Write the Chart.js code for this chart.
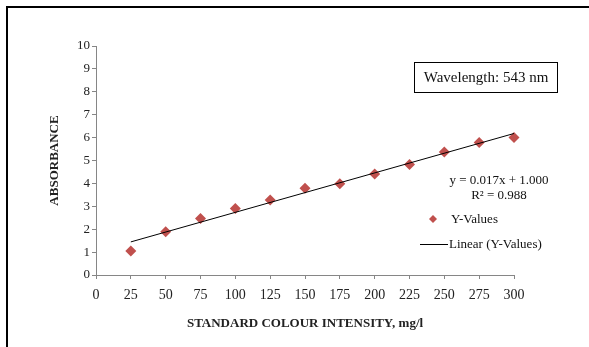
<!DOCTYPE html>
<html>
<head>
<meta charset="utf-8">
<script src="https://cdn.jsdelivr.net/npm/chart.js@4.4.1/dist/chart.umd.min.js"></script>
<style>
  html, body { margin: 0; padding: 0; background: #fff; }
  .wrap { position: relative; width: 589px; height: 347px; overflow: hidden; }
  .frame { position: absolute; left: 6px; top: 6px; width: 600px; height: 400px;
           border-left: 2px solid #000; border-top: 2px solid #000; }
  canvas { position: absolute; left: 0; top: 0; }
</style>
</head>
<body>
<div class="wrap">
  <div class="frame"></div>
  <canvas id="chart" width="589" height="347"></canvas>
</div>
<script>
// concentrations (mg/l) and measured absorbance
const intensity = [25, 50, 75, 100, 125, 150, 175, 200, 225, 250, 275, 300];
const absorbance = [1.05, 1.89, 2.47, 2.9, 3.27, 3.79, 3.99, 4.41, 4.82, 5.37, 5.79, 6.0];
const xTicks = [0, 25, 50, 75, 100, 125, 150, 175, 200, 225, 250, 275, 300];
const yTicks = [0, 1, 2, 3, 4, 5, 6, 7, 8, 9, 10];

const equationText = 'y = 0.017x + 1.000';
const r2Text = 'R\u00B2 = 0.988';
const boxText = 'Wavelength: 543 nm';

const serif = "'Liberation Serif', 'Times New Roman', serif";
const markerColor = '#C0504D';
const axisColor = '#868686';

// least squares trendline through the measured points
function linearFit(xs, ys) {
    const n = xs.length;
    const mx = xs.reduce((a, b) => a + b, 0) / n;
    const my = ys.reduce((a, b) => a + b, 0) / n;
    let sxy = 0, sxx = 0;
    for (let i = 0; i < n; i++) {
        sxy += (xs[i] - mx) * (ys[i] - my);
        sxx += (xs[i] - mx) * (xs[i] - mx);
    }
    const slope = sxy / sxx;
    return { slope: slope, intercept: my - slope * mx };
}

const fit = linearFit(intensity, absorbance);
const xFirst = intensity[0];
const xLast = intensity[intensity.length - 1];

const annotations = {
    id: 'annotations',
    afterDraw(chart) {
        const ctx = chart.ctx;
        ctx.save();
        ctx.fillStyle = '#111';
        ctx.textBaseline = 'middle';

        // wavelength box
        ctx.strokeStyle = '#000';
        ctx.lineWidth = 1;
        ctx.strokeRect(414.5, 62.5, 143, 30);
        ctx.font = '15px ' + serif;
        ctx.textAlign = 'center';
        ctx.fillText(boxText, 486, 78);

        // trendline equation
        ctx.font = '13px ' + serif;
        ctx.fillText(equationText, 499, 181);
        ctx.fillText(r2Text, 499, 196);

        // legend
        const ds = chart.data.datasets;
        ctx.textAlign = 'left';
        ctx.fillStyle = ds[0].backgroundColor;
        ctx.beginPath();
        ctx.moveTo(433, 215);
        ctx.lineTo(437, 219);
        ctx.lineTo(433, 223);
        ctx.lineTo(429, 219);
        ctx.closePath();
        ctx.fill();
        ctx.fillStyle = '#111';
        ctx.fillText(ds[0].label, 451, 220);

        ctx.strokeStyle = ds[1].borderColor;
        ctx.beginPath();
        ctx.moveTo(420, 244.5);
        ctx.lineTo(448, 244.5);
        ctx.stroke();
        ctx.fillText(ds[1].label, 449, 245);
        ctx.restore();
    }
};

const ctx = document.getElementById('chart').getContext('2d');
const chart = new Chart(ctx, {
    type: 'scatter',
    data: {
        datasets: [{
            label: 'Y-Values',
            data: intensity.map((x, i) => ({ x: x, y: absorbance[i] })),
            pointStyle: 'rectRot',
            pointRadius: 5.5,
            pointHoverRadius: 5.5,
            backgroundColor: markerColor,
            borderColor: markerColor,
            borderWidth: 0,
            clip: false,
            order: 1
        }, {
            label: 'Linear (Y-Values)',
            type: 'line',
            data: [
                { x: xFirst, y: fit.intercept + fit.slope * xFirst },
                { x: xLast, y: fit.intercept + fit.slope * xLast }
            ],
            borderColor: '#000',
            borderWidth: 1,
            pointRadius: 0,
            fill: false,
            clip: false,
            order: 0
        }]
    },
    options: {
        responsive: false,
        animation: false,
        events: [],
        layout: { padding: { left: 0, top: 46, right: 75, bottom: 0 } },
        plugins: {
            legend: { display: false },
            tooltip: { enabled: false }
        },
        scales: {
            x: {
                type: 'linear',
                min: 0,
                max: 300,
                afterBuildTicks: s => { s.ticks = xTicks.map(v => ({ value: v })); },
                afterFit: s => { s.height = 72; },
                border: { color: axisColor, width: 1 },
                grid: { drawOnChartArea: false, drawTicks: true, tickLength: 4, color: axisColor },
                ticks: { color: '#222', padding: 8, maxRotation: 0, autoSkip: false,
                         font: { family: serif, size: 14 } },
                title: {
                    display: true,
                    text: 'STANDARD COLOUR INTENSITY, mg/l',
                    color: '#222',
                    font: { family: serif, size: 13, weight: 'bold' },
                    padding: { top: 0, bottom: 16 }
                }
            },
            y: {
                type: 'linear',
                min: 0,
                max: 10,
                afterBuildTicks: s => { s.ticks = yTicks.map(v => ({ value: v })); },
                afterFit: s => { s.width = 96; },
                border: { color: axisColor, width: 1 },
                grid: { drawOnChartArea: false, drawTicks: true, tickLength: 4, color: axisColor },
                ticks: { color: '#222', padding: 2, autoSkip: false,
                         font: { family: serif, size: 13 } },
                title: {
                    display: true,
                    text: 'ABSORBANCE',
                    color: '#222',
                    font: { family: serif, size: 13, weight: 'bold' },
                    padding: { top: 47, bottom: 0 }
                }
            }
        }
    },
    plugins: [annotations]
});
</script>
</body>
</html>
